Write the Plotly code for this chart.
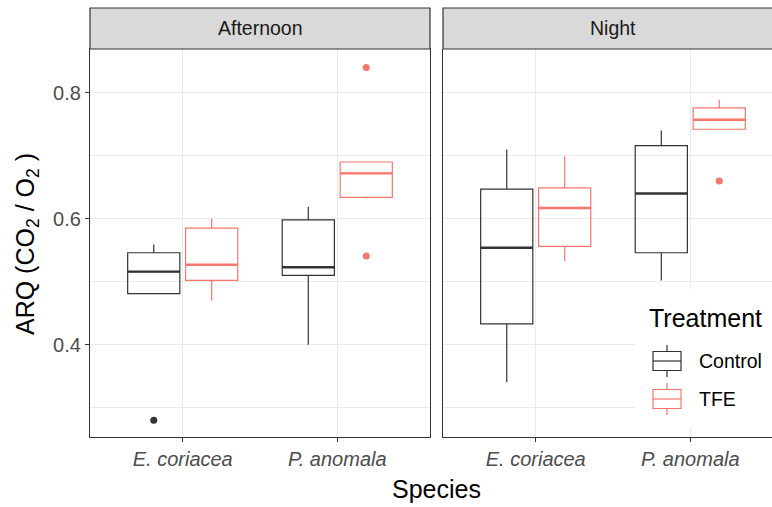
import plotly.graph_objects as go

# ---- data -------------------------------------------------------------
species = ["E. coriacea", "P. anomala"]
species_labels = ["<i>E. coriacea</i>", "<i>P. anomala</i>"]
periods = ["Afternoon", "Night"]
treatments = ["Control", "TFE"]

# box statistics per period / treatment, one entry per species
afternoon_control = dict(lower=[0.481, 0.400], q1=[0.481, 0.510], median=[0.516, 0.523],
                         q3=[0.546, 0.598], upper=[0.559, 0.619])
afternoon_tfe = dict(lower=[0.470, 0.632], q1=[0.502, 0.634], median=[0.527, 0.672],
                     q3=[0.585, 0.690], upper=[0.600, 0.690])
night_control = dict(lower=[0.341, 0.502], q1=[0.433, 0.546], median=[0.554, 0.640],
                     q3=[0.647, 0.716], upper=[0.710, 0.740])
night_tfe = dict(lower=[0.533, 0.742], q1=[0.556, 0.742], median=[0.617, 0.757],
                 q3=[0.649, 0.776], upper=[0.699, 0.789])

# outlying observations: (species index, value)
afternoon_control_out = [(0, 0.280)]
afternoon_tfe_out = [(1, 0.840), (1, 0.541)]
night_control_out = []
night_tfe_out = [(1, 0.660)]

y_ticks = [0.4, 0.6, 0.8]
y_minor = [0.3, 0.5, 0.7]

# ---- styling ------------------------------------------------------------
W, H = 772, 507
FONT = "Arial, Liberation Sans, sans-serif"
COLORS = {"Control": "#333333", "TFE": "#F8766D"}
DODGE = 0.375          # half of the dodge width (0.75)
BOX_W = 0.3375         # box width in category units
GRID = "#EBEBEB"
DARK = "#333333"

def px(x):
    return x / W

def py(y):
    return 1 - y / H

# panel geometry in pixels
LEFT1, RIGHT1 = 90, 430
LEFT2 = 443
PANEL_TOP, PANEL_BOT = 49, 437
STRIP_TOP = 8
UNIT = (RIGHT1 - LEFT1) / 2.2          # pixels per category unit
Y_RANGE = [0.2535, 0.8694]

fig = go.Figure()

panels = [
    ("x", "y", {"Control": (afternoon_control, afternoon_control_out),
                "TFE": (afternoon_tfe, afternoon_tfe_out)}),
    ("x2", "y2", {"Control": (night_control, night_control_out),
                  "TFE": (night_tfe, night_tfe_out)}),
]

for xa, ya, groups in panels:
    for k, trt in enumerate(treatments):
        stats, outs = groups[trt]
        shift = (k - 0.5) * DODGE
        pos = [i + 1 + shift for i in range(len(species))]
        col = COLORS[trt]
        fig.add_trace(go.Box(
            x=pos, q1=stats["q1"], median=stats["median"], q3=stats["q3"],
            lowerfence=stats["lower"], upperfence=stats["upper"],
            width=BOX_W, whiskerwidth=0, boxpoints=False,
            fillcolor="rgba(255,255,255,0)", line=dict(color=col, width=1.2),
            xaxis=xa, yaxis=ya, showlegend=False, hoverinfo="skip"))
        # thicker median bars
        mx, my = [], []
        for p, m in zip(pos, stats["median"]):
            mx += [p - BOX_W / 2, p + BOX_W / 2, None]
            my += [m, m, None]
        fig.add_trace(go.Scatter(x=mx, y=my, mode="lines",
                                 line=dict(color=col, width=2.4),
                                 xaxis=xa, yaxis=ya, showlegend=False,
                                 hoverinfo="skip"))
        if outs:
            fig.add_trace(go.Scatter(
                x=[i + 1 + shift for i, _ in outs], y=[v for _, v in outs],
                mode="markers", marker=dict(color=col, size=7),
                xaxis=xa, yaxis=ya, showlegend=False, hoverinfo="skip"))

x_common = dict(tickvals=[1, 2], ticktext=species_labels, ticks="outside",
                ticklen=4, tickwidth=1.1, tickcolor=DARK,
                tickfont=dict(family=FONT, size=20, color="#4D4D4D"),
                showgrid=True, gridcolor=GRID, gridwidth=1.4, zeroline=False,
                showline=True, linecolor=DARK, linewidth=1.2, fixedrange=True)
y_domain = [py(PANEL_BOT), py(PANEL_TOP)]
y_grid = dict(showgrid=True, gridcolor=GRID, gridwidth=1.4, zeroline=False,
              minor=dict(tickvals=y_minor, showgrid=True, gridcolor=GRID,
                         gridwidth=1.2, ticks=""))

fig.update_layout(
    width=W, height=H, margin=dict(l=0, r=0, t=0, b=0),
    paper_bgcolor="white", plot_bgcolor="white", showlegend=False,
    boxmode="overlay",
    xaxis=dict(domain=[px(LEFT1), px(RIGHT1)], range=[0.4, 2.6], anchor="y",
               mirror=True, **x_common),
    xaxis2=dict(domain=[px(LEFT2), 1.0],
                range=[0.4, 0.4 + (W - LEFT2) / UNIT], anchor="y2",
                mirror=False, **x_common),
    yaxis=dict(domain=y_domain, range=Y_RANGE, anchor="x",
               tickvals=y_ticks, ticktext=[f"{v:.1f}" for v in y_ticks],
               ticks="outside", ticklen=4, tickwidth=1.1, tickcolor=DARK,
               tickfont=dict(family=FONT, size=20, color="#4D4D4D"),
               showline=True, linecolor=DARK, linewidth=1.2, mirror=True,
               fixedrange=True, **y_grid),
    yaxis2=dict(domain=y_domain, range=Y_RANGE, anchor="x2", matches="y",
                tickvals=y_ticks, showticklabels=False, ticks="",
                showline=True, linecolor=DARK, linewidth=1.2, mirror=False,
                fixedrange=True, **y_grid),
)

shapes = []
annotations = []

# facet strips
strip_spans = [(LEFT1, RIGHT1), (LEFT2, W + 30)]
strip_centres = [(LEFT1 + RIGHT1) / 2, LEFT2 + 1.1 * UNIT]
for (x0, x1), cx, label in zip(strip_spans, strip_centres, periods):
    shapes.append(dict(type="rect", xref="paper", yref="paper",
                       x0=px(x0), x1=px(x1), y0=py(PANEL_TOP), y1=py(STRIP_TOP),
                       fillcolor="#D9D9D9", line=dict(color=DARK, width=1.2),
                       layer="above"))
    annotations.append(dict(text=label, xref="paper", yref="paper",
                            x=px(cx), y=py((PANEL_TOP + STRIP_TOP) / 2),
                            showarrow=False, xanchor="center", yanchor="middle",
                            font=dict(family=FONT, size=19.5, color="#1A1A1A")))

# axis titles
annotations.append(dict(text="Species", xref="paper", yref="paper",
                        x=px((LEFT1 + LEFT2 + 2.2 * UNIT) / 2), y=py(489),
                        showarrow=False, xanchor="center", yanchor="middle",
                        font=dict(family=FONT, size=25, color="black")))
annotations.append(dict(text="ARQ (CO<sub>2</sub> / O<sub>2</sub> )",
                        xref="paper", yref="paper", x=px(27), y=py(244),
                        textangle=-90, showarrow=False,
                        xanchor="center", yanchor="middle",
                        font=dict(family=FONT, size=25, color="black")))

# legend, drawn inside the night panel
shapes.append(dict(type="rect", xref="paper", yref="paper",
                   x0=px(635), x1=px(W + 30), y0=py(428), y1=py(289),
                   fillcolor="white", line=dict(width=0), layer="above"))
annotations.append(dict(text="Treatment", xref="paper", yref="paper",
                        x=px(647), y=py(318), showarrow=False,
                        xanchor="left", yanchor="middle",
                        font=dict(family=FONT, size=25, color="black")))
key_rows = [361, 399]
for trt, cy in zip(treatments, key_rows):
    col = COLORS[trt]
    kx0, kx1 = 653, 681
    shapes.append(dict(type="rect", xref="paper", yref="paper",
                       x0=px(kx0), x1=px(kx1), y0=py(cy + 9.5), y1=py(cy - 9.5),
                       fillcolor="white", line=dict(color=col, width=1.2),
                       layer="above"))
    shapes.append(dict(type="line", xref="paper", yref="paper",
                       x0=px(kx0), x1=px(kx1), y0=py(cy), y1=py(cy),
                       line=dict(color=col, width=1.2), layer="above"))
    for ya, yb in [(cy - 16, cy - 9.5), (cy + 9.5, cy + 16)]:
        shapes.append(dict(type="line", xref="paper", yref="paper",
                           x0=px((kx0 + kx1) / 2), x1=px((kx0 + kx1) / 2),
                           y0=py(ya), y1=py(yb),
                           line=dict(color=col, width=1.2), layer="above"))
    annotations.append(dict(text=trt, xref="paper", yref="paper",
                            x=px(697), y=py(cy), showarrow=False,
                            xanchor="left", yanchor="middle",
                            font=dict(family=FONT, size=19.5, color="black")))

fig.update_layout(shapes=shapes, annotations=annotations)
fig.write_html("out.html")
